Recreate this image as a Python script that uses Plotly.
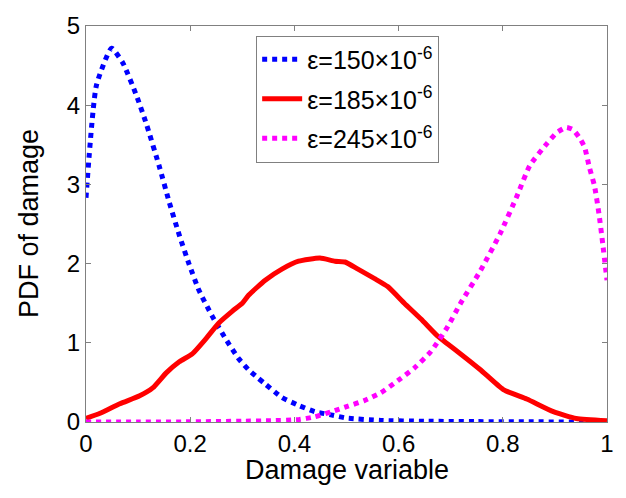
import plotly.graph_objects as go

# Series: eps = 150e-6 (blue dotted)
x150 = [0, 0.02, 0.049, 0.071, 0.097, 0.116, 0.141, 0.16, 0.179, 0.198, 0.217, 0.242,
        0.268, 0.293, 0.312, 0.331, 0.344, 0.376, 0.408, 0.439, 0.47, 0.50, 0.566,
        0.65, 0.75, 0.85, 0.95, 1.0]
y150 = [2.83, 4.25, 4.72, 4.53, 4.12, 3.76, 3.22, 2.77, 2.36, 1.99, 1.66, 1.34,
        1.05, 0.80, 0.66, 0.55, 0.48, 0.31, 0.21, 0.13, 0.09, 0.05, 0.02,
        0.01, 0.005, 0.002, 0.001, 0.0]

# Series: eps = 185e-6 (red solid)
x185 = [0, 0.027, 0.065, 0.103, 0.128, 0.154, 0.179, 0.204, 0.23, 0.255, 0.281, 0.30,
        0.312, 0.344, 0.376, 0.408, 0.449, 0.478, 0.497, 0.522, 0.554, 0.579, 0.611,
        0.643, 0.674, 0.693, 0.719, 0.757, 0.801, 0.846, 0.897, 0.941, 1.0]
y185 = [0.045, 0.11, 0.23, 0.33, 0.43, 0.62, 0.76, 0.86, 1.05, 1.25, 1.40, 1.50,
        1.60, 1.79, 1.93, 2.03, 2.07, 2.03, 2.02, 1.93, 1.81, 1.71, 1.50,
        1.30, 1.09, 0.99, 0.86, 0.66, 0.41, 0.29, 0.13, 0.045, 0.016]

# Series: eps = 245e-6 (magenta dotted)
x245 = [0, 0.1, 0.2, 0.3, 0.35, 0.408, 0.439, 0.471, 0.503, 0.534, 0.566, 0.598,
        0.630, 0.662, 0.693, 0.719, 0.757, 0.795, 0.827, 0.852, 0.884, 0.903, 0.922,
        0.935, 0.947, 0.957, 0.966, 0.976, 0.985, 0.992, 1.0]
y245 = [0.0, 0.0, 0.002, 0.01, 0.015, 0.03, 0.065, 0.13, 0.20, 0.27, 0.37, 0.52,
        0.68, 0.89, 1.19, 1.50, 1.91, 2.38, 2.85, 3.24, 3.51, 3.65, 3.72,
        3.69, 3.59, 3.47, 3.22, 2.98, 2.61, 2.24, 1.79]

names = ["ε=150×10<sup>-6</sup>", "ε=185×10<sup>-6</sup>", "ε=245×10<sup>-6</sup>"]
xtick_vals = [0, 0.2, 0.4, 0.6, 0.8, 1]
xtick_text = ["0", "0.2", "0.4", "0.6", "0.8", "1"]
ytick_vals = [0, 1, 2, 3, 4, 5]
x_title = "Damage variable"
y_title = "PDF of damage"

FONT = "Arial, Liberation Sans, sans-serif"

fig = go.Figure()
fig.add_trace(go.Scatter(x=x150, y=y150, mode="lines", name=names[0], legendgroup="a",
                         line=dict(color="#0000ff", width=5, dash="dot",
                                   shape="spline", smoothing=0.5)))
fig.add_trace(go.Scatter(x=x185, y=y185, mode="lines", name=names[1], legendgroup="b",
                         line=dict(color="#ff0000", width=5,
                                   shape="spline", smoothing=0.5)))
fig.add_trace(go.Scatter(x=x245, y=y245, mode="lines", name=names[2], legendgroup="c",
                         line=dict(color="#ff00ff", width=5, dash="dot",
                                   shape="spline", smoothing=0.5)))

axis_common = dict(showline=True, linecolor="#808080", linewidth=1, mirror="ticks",
                   ticks="inside", ticklen=5, tickcolor="#808080", showgrid=False,
                   zeroline=False, tickfont=dict(family=FONT, size=24, color="black"))

fig.update_layout(
    width=626, height=498,
    paper_bgcolor="white", plot_bgcolor="white",
    margin=dict(l=86, r=13, t=16, b=76),
    font=dict(family=FONT, color="black"),
    xaxis=dict(range=[0, 1], tickvals=xtick_vals, ticktext=xtick_text, **axis_common),
    yaxis=dict(range=[0, 5], tickvals=ytick_vals, **axis_common),
    legend=dict(x=0.3266, y=0.976, xanchor="left", yanchor="top",
                bgcolor="white", bordercolor="#808080", borderwidth=1,
                font=dict(family=FONT, size=25), tracegroupgap=4,
                itemwidth=40),
    showlegend=True,
    annotations=[
        dict(text=x_title, xref="paper", yref="paper", x=0.5, y=0,
             xanchor="center", yanchor="middle", yshift=-48, showarrow=False,
             font=dict(family=FONT, size=27, color="black")),
        dict(text=y_title, xref="paper", yref="paper", x=0, y=0.5, textangle=-90,
             xanchor="center", yanchor="middle", xshift=-57, showarrow=False,
             font=dict(family=FONT, size=27, color="black")),
    ],
)

fig.write_html("out.html")
